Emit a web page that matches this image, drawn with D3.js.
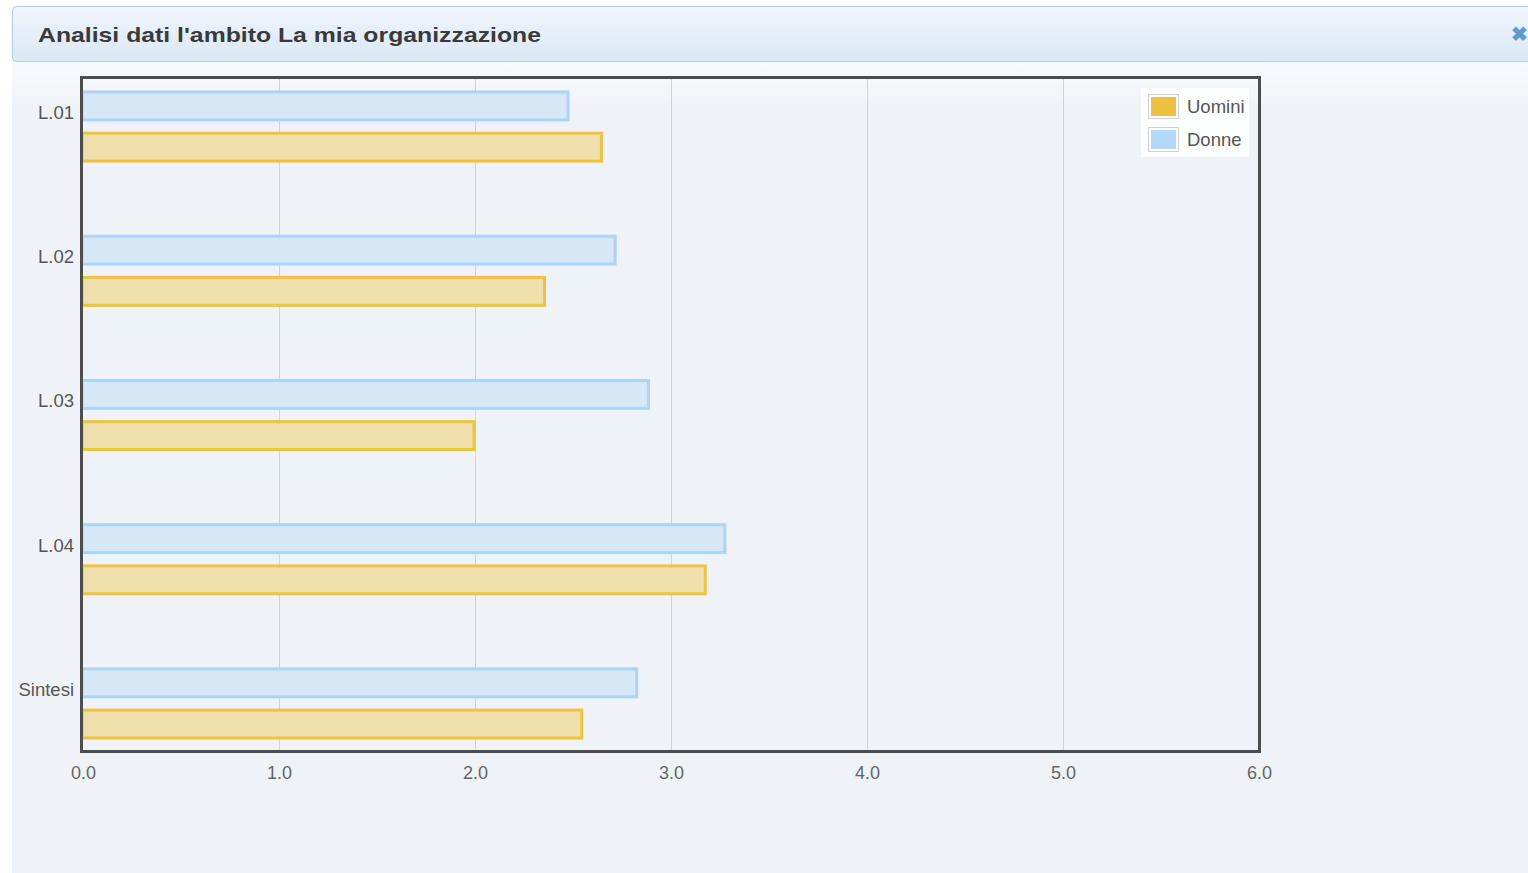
<!DOCTYPE html>
<html>
<head>
<meta charset="utf-8">
<script src="https://cdn.jsdelivr.net/npm/d3@7"></script>
<style>
  html, body { margin: 0; padding: 0; background: #fff; }
  svg { display: block; font-family: "Liberation Sans", Arial, sans-serif; }
</style>
</head>
<body>
<div id="chart"></div>
<script>
const title = "Analisi dati l'ambito La mia organizzazione";
const categories = ['L.01', 'L.02', 'L.03', 'L.04', 'Sintesi'];
const seriesNames = ['Donne', 'Uomini'];
const donne = [2.48, 2.72, 2.89, 3.28, 2.83];
const uomini = [2.65, 2.36, 2.00, 3.18, 2.55];
const xTicks = [0, 1, 2, 3, 4, 5, 6];
const legendOrder = ['Uomini', 'Donne'];

const W = 1528, H = 873;
const plot = { left: 81.5, top: 77.5, right: 1259.5, bottom: 751.5 };

const colors = {
  Donne: { fill: '#d6e7f6', stroke: '#aad4f8', swatch: '#b2d9f9' },
  Uomini: { fill: '#f0e0ad', stroke: '#efc23f', swatch: '#eec03f' }
};

const svg = d3.select('#chart').append('svg')
  .attr('width', W)
  .attr('height', H);

const defs = svg.append('defs');
const headGrad = defs.append('linearGradient').attr('id', 'headGrad')
  .attr('x1', 0).attr('y1', 0).attr('x2', 0).attr('y2', 1);
headGrad.append('stop').attr('offset', '0%').attr('stop-color', '#eff5fb');
headGrad.append('stop').attr('offset', '100%').attr('stop-color', '#dbe8f5');

const bodyGrad = defs.append('linearGradient').attr('id', 'bodyGrad')
  .attr('x1', 0).attr('y1', 0).attr('x2', 0).attr('y2', 1);
bodyGrad.append('stop').attr('offset', '0%').attr('stop-color', '#f9fafc');
bodyGrad.append('stop').attr('offset', '100%').attr('stop-color', '#eff3f7');

// panel body
svg.append('rect')
  .attr('x', 12).attr('y', 62).attr('width', W - 12).attr('height', H - 62)
  .attr('fill', '#eff3f7');
svg.append('rect')
  .attr('x', 12).attr('y', 62).attr('width', W - 12).attr('height', 45)
  .attr('fill', 'url(#bodyGrad)');

// header
svg.append('rect')
  .attr('x', 12.5).attr('y', 6.5).attr('width', W).attr('height', 55)
  .attr('rx', 4)
  .attr('fill', 'url(#headGrad)')
  .attr('stroke', '#abcde9');

svg.append('text')
  .attr('x', 38).attr('y', 42)
  .attr('font-size', 21)
  .attr('font-weight', 'bold')
  .attr('fill', '#3a3a3a')
  .attr('textLength', 503)
  .attr('lengthAdjust', 'spacingAndGlyphs')
  .text(title);

svg.append('text')
  .attr('x', 1519).attr('y', 41)
  .attr('text-anchor', 'middle')
  .attr('font-size', 20)
  .attr('font-weight', 'bold')
  .attr('fill', '#5c9ad0')
  .text('\u2716');

// scales
const x = d3.scaleLinear().domain([0, 6]).range([83.5, 1259.5]);
const y = d3.scaleBand().domain(categories)
  .range([plot.top, plot.bottom + 1])
  .paddingInner(0.5).paddingOuter(0.09);
const ySub = d3.scaleBand().domain(seriesNames)
  .range([0, y.bandwidth()])
  .paddingInner(0.25);

// gridlines
svg.append('g')
  .selectAll('line')
  .data(xTicks.filter(t => t > 0 && t < 6))
  .join('line')
  .attr('x1', d => Math.round(x(d)) - 0.5)
  .attr('x2', d => Math.round(x(d)) - 0.5)
  .attr('y1', plot.top).attr('y2', plot.bottom)
  .attr('stroke', '#cfd3d8')
  .attr('stroke-width', 1);

// bars
const rows = categories.map((c, i) => ({ cat: c, Donne: donne[i], Uomini: uomini[i] }));
const groups = svg.append('g').selectAll('g')
  .data(rows)
  .join('g')
  .attr('transform', d => `translate(0,${y(d.cat)})`);

groups.selectAll('rect')
  .data(d => seriesNames.map(s => ({ s, v: d[s] })))
  .join('rect')
  .attr('x', x(0) - 1.5)
  .attr('y', d => ySub(d.s) + 1.5)
  .attr('width', d => x(d.v) - x(0))
  .attr('height', ySub.bandwidth() - 3)
  .attr('fill', d => colors[d.s].fill)
  .attr('stroke', d => colors[d.s].stroke)
  .attr('stroke-width', 3);

// category labels
svg.append('g')
  .selectAll('text')
  .data(categories)
  .join('text')
  .attr('x', 74)
  .attr('y', d => y(d) + 22)
  .attr('dy', '0.35em')
  .attr('text-anchor', 'end')
  .attr('font-size', 18.5)
  .attr('fill', '#555')
  .text(d => d);

// x tick labels
svg.append('g')
  .selectAll('text')
  .data(xTicks)
  .join('text')
  .attr('x', d => x(d))
  .attr('y', 773)
  .attr('dy', '0.35em')
  .attr('text-anchor', 'middle')
  .attr('font-size', 18)
  .attr('fill', '#666')
  .text(d => d3.format('.1f')(d));

// plot frame
svg.append('rect')
  .attr('x', plot.left).attr('y', plot.top)
  .attr('width', plot.right - plot.left)
  .attr('height', plot.bottom - plot.top)
  .attr('fill', 'none')
  .attr('stroke', '#4d4d4d')
  .attr('stroke-width', 3);

// legend
const legend = svg.append('g').attr('transform', 'translate(1141,88)');
legend.append('rect')
  .attr('width', 108).attr('height', 69)
  .attr('fill', '#fdfefe');
const items = legend.selectAll('g.item')
  .data(legendOrder)
  .join('g')
  .attr('class', 'item')
  .attr('transform', (d, i) => `translate(0,${6 + i * 33})`);
items.append('rect')
  .attr('x', 7.5).attr('y', 0.5)
  .attr('width', 30).attr('height', 24)
  .attr('fill', '#fff')
  .attr('stroke', '#d0d0d0');
items.append('rect')
  .attr('x', 10).attr('y', 3)
  .attr('width', 25).attr('height', 19)
  .attr('fill', d => colors[d].swatch);
items.append('text')
  .attr('x', 46).attr('y', 13)
  .attr('dy', '0.35em')
  .attr('font-size', 18.5)
  .attr('fill', '#555')
  .text(d => d);
</script>
</body>
</html>
